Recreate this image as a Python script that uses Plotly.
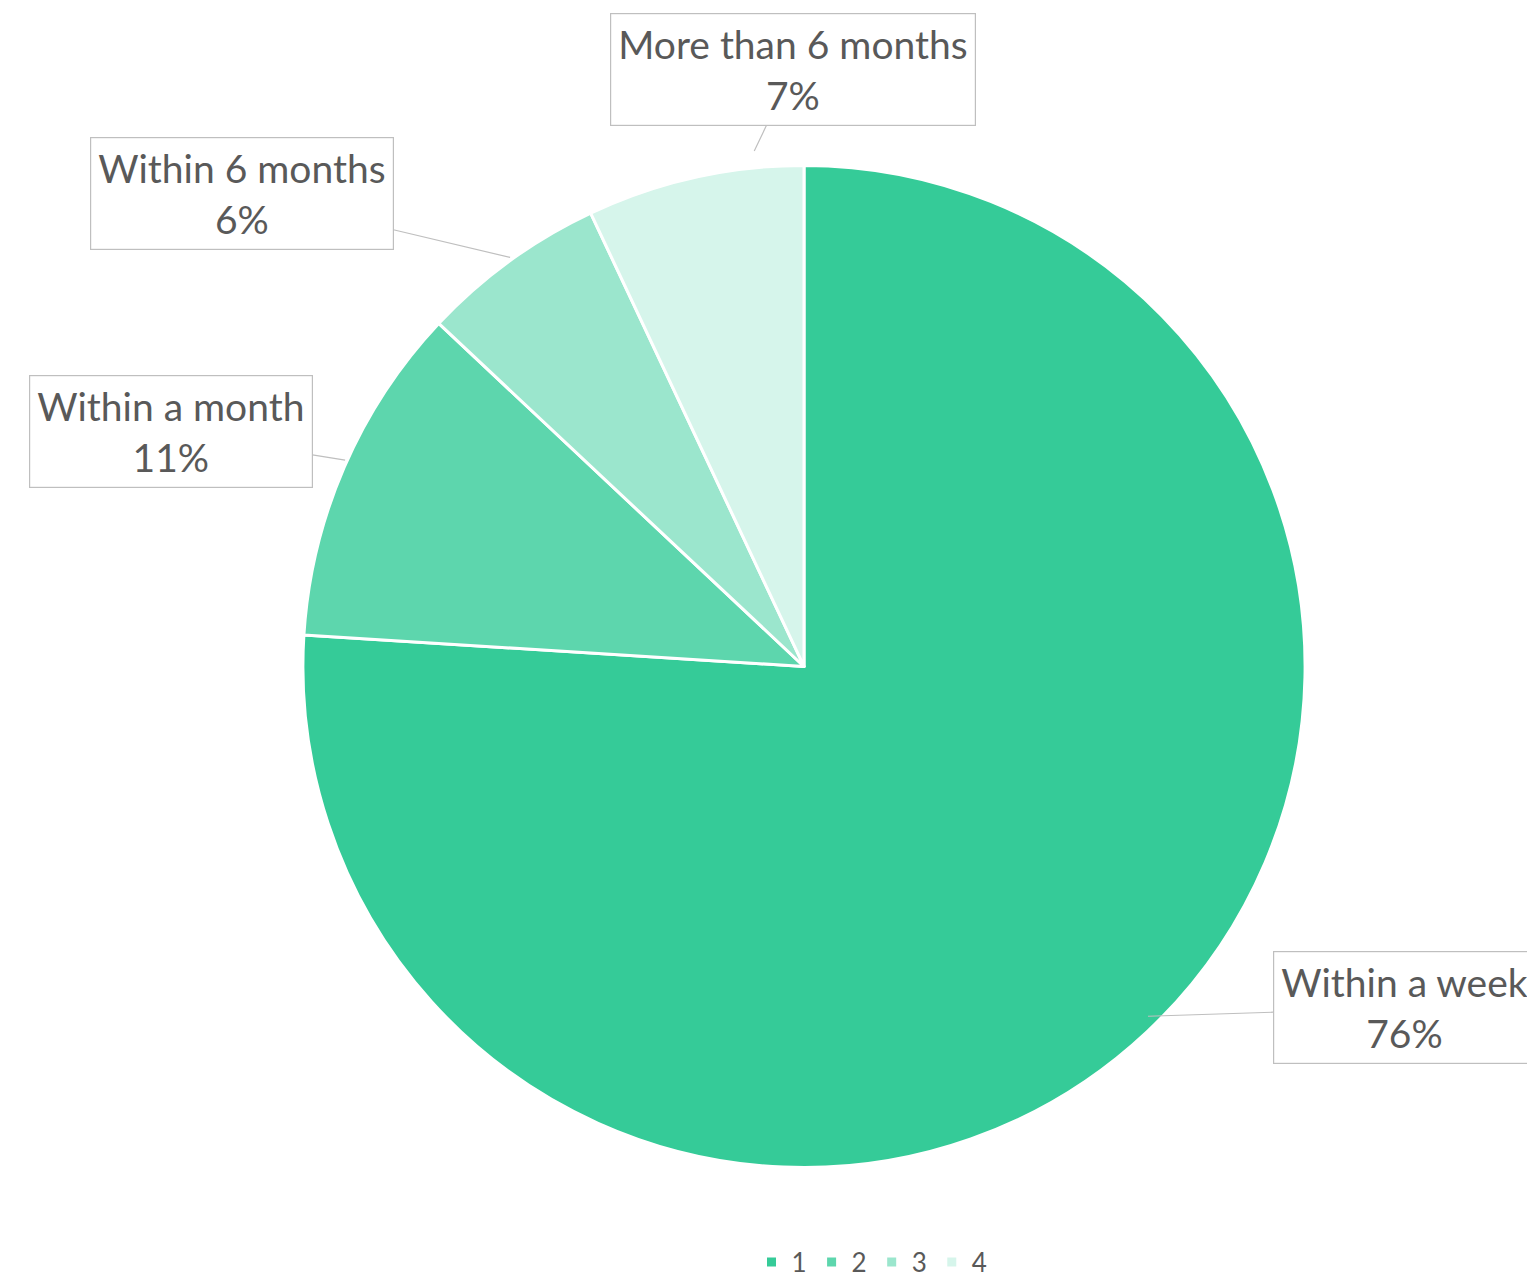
import math
import plotly.graph_objects as go

# Data
legend_labels = ["1", "2", "3", "4"]
categories = ["Within a week", "Within a month", "Within 6 months", "More than 6 months"]
values = [76, 11, 6, 7]
colors = ["#35CB98", "#5DD6AD", "#9BE6CD", "#D6F5EB"]

W, H = 1527, 1286
cx, cy, R = 804, 666, 500  # target pie centre / radius in pixels
Rdom = 509
cy_dom = 677

fig = go.Figure(go.Pie(
    labels=legend_labels,
    values=values,
    sort=False,
    direction="clockwise",
    rotation=0,
    marker=dict(colors=colors, line=dict(color="white", width=3)),
    textinfo="none",
    hoverinfo="label+percent",
    domain=dict(x=[(cx - Rdom) / W, (cx + Rdom) / W],
                y=[1 - (cy_dom + Rdom) / H, 1 - (cy_dom - Rdom) / H]),
))

# label box centres (pixel layout positions)
box_centres = [(1404, 1024), (171, 439), (242, 198), (793, 72)]
tip_frac = [0.5, 0.5, 0.5, 0.78]
tip_scale = [1.005, 1.0, 1.0, 1.03]

total = sum(values)
cum = 0
annotations = []
for i, (cat, v) in enumerate(zip(categories, values)):
    mid = (cum + v * tip_frac[i]) / total * 2 * math.pi
    cum += v
    tx = cx + math.sin(mid) * R * tip_scale[i]
    ty = cy - math.cos(mid) * R * tip_scale[i]
    bx, by = box_centres[i]
    pct = round(v / total * 100)
    annotations.append(dict(
        x=tx / W, y=1 - ty / H, xref="paper", yref="paper",
        text=f"{cat}<br>{pct}%",
        showarrow=True, arrowhead=0, arrowwidth=1.2, arrowcolor="#BFBFBF",
        ax=bx - tx, ay=by - ty,
        bgcolor="white", bordercolor="#BFBFBF", borderwidth=1.2, borderpad=7,
        font=dict(family="Lato, 'Open Sans', sans-serif", size=39, color="#595959"),
        align="center",
    ))

fig.update_layout(
    width=W, height=H,
    margin=dict(l=0, r=0, t=0, b=0),
    paper_bgcolor="white",
    plot_bgcolor="white",
    annotations=annotations,
    showlegend=True,
    legend=dict(
        orientation="h", x=872 / W, xanchor="center", y=0.003, yanchor="middle",
        font=dict(family="Lato, 'Open Sans', sans-serif", size=26, color="#595959"),
        itemwidth=30, traceorder="normal",
    ),
)

fig.write_html("out.html", config={"displayModeBar": False},
               post_script="document.body.style.margin='0';document.body.style.overflow='hidden';")
